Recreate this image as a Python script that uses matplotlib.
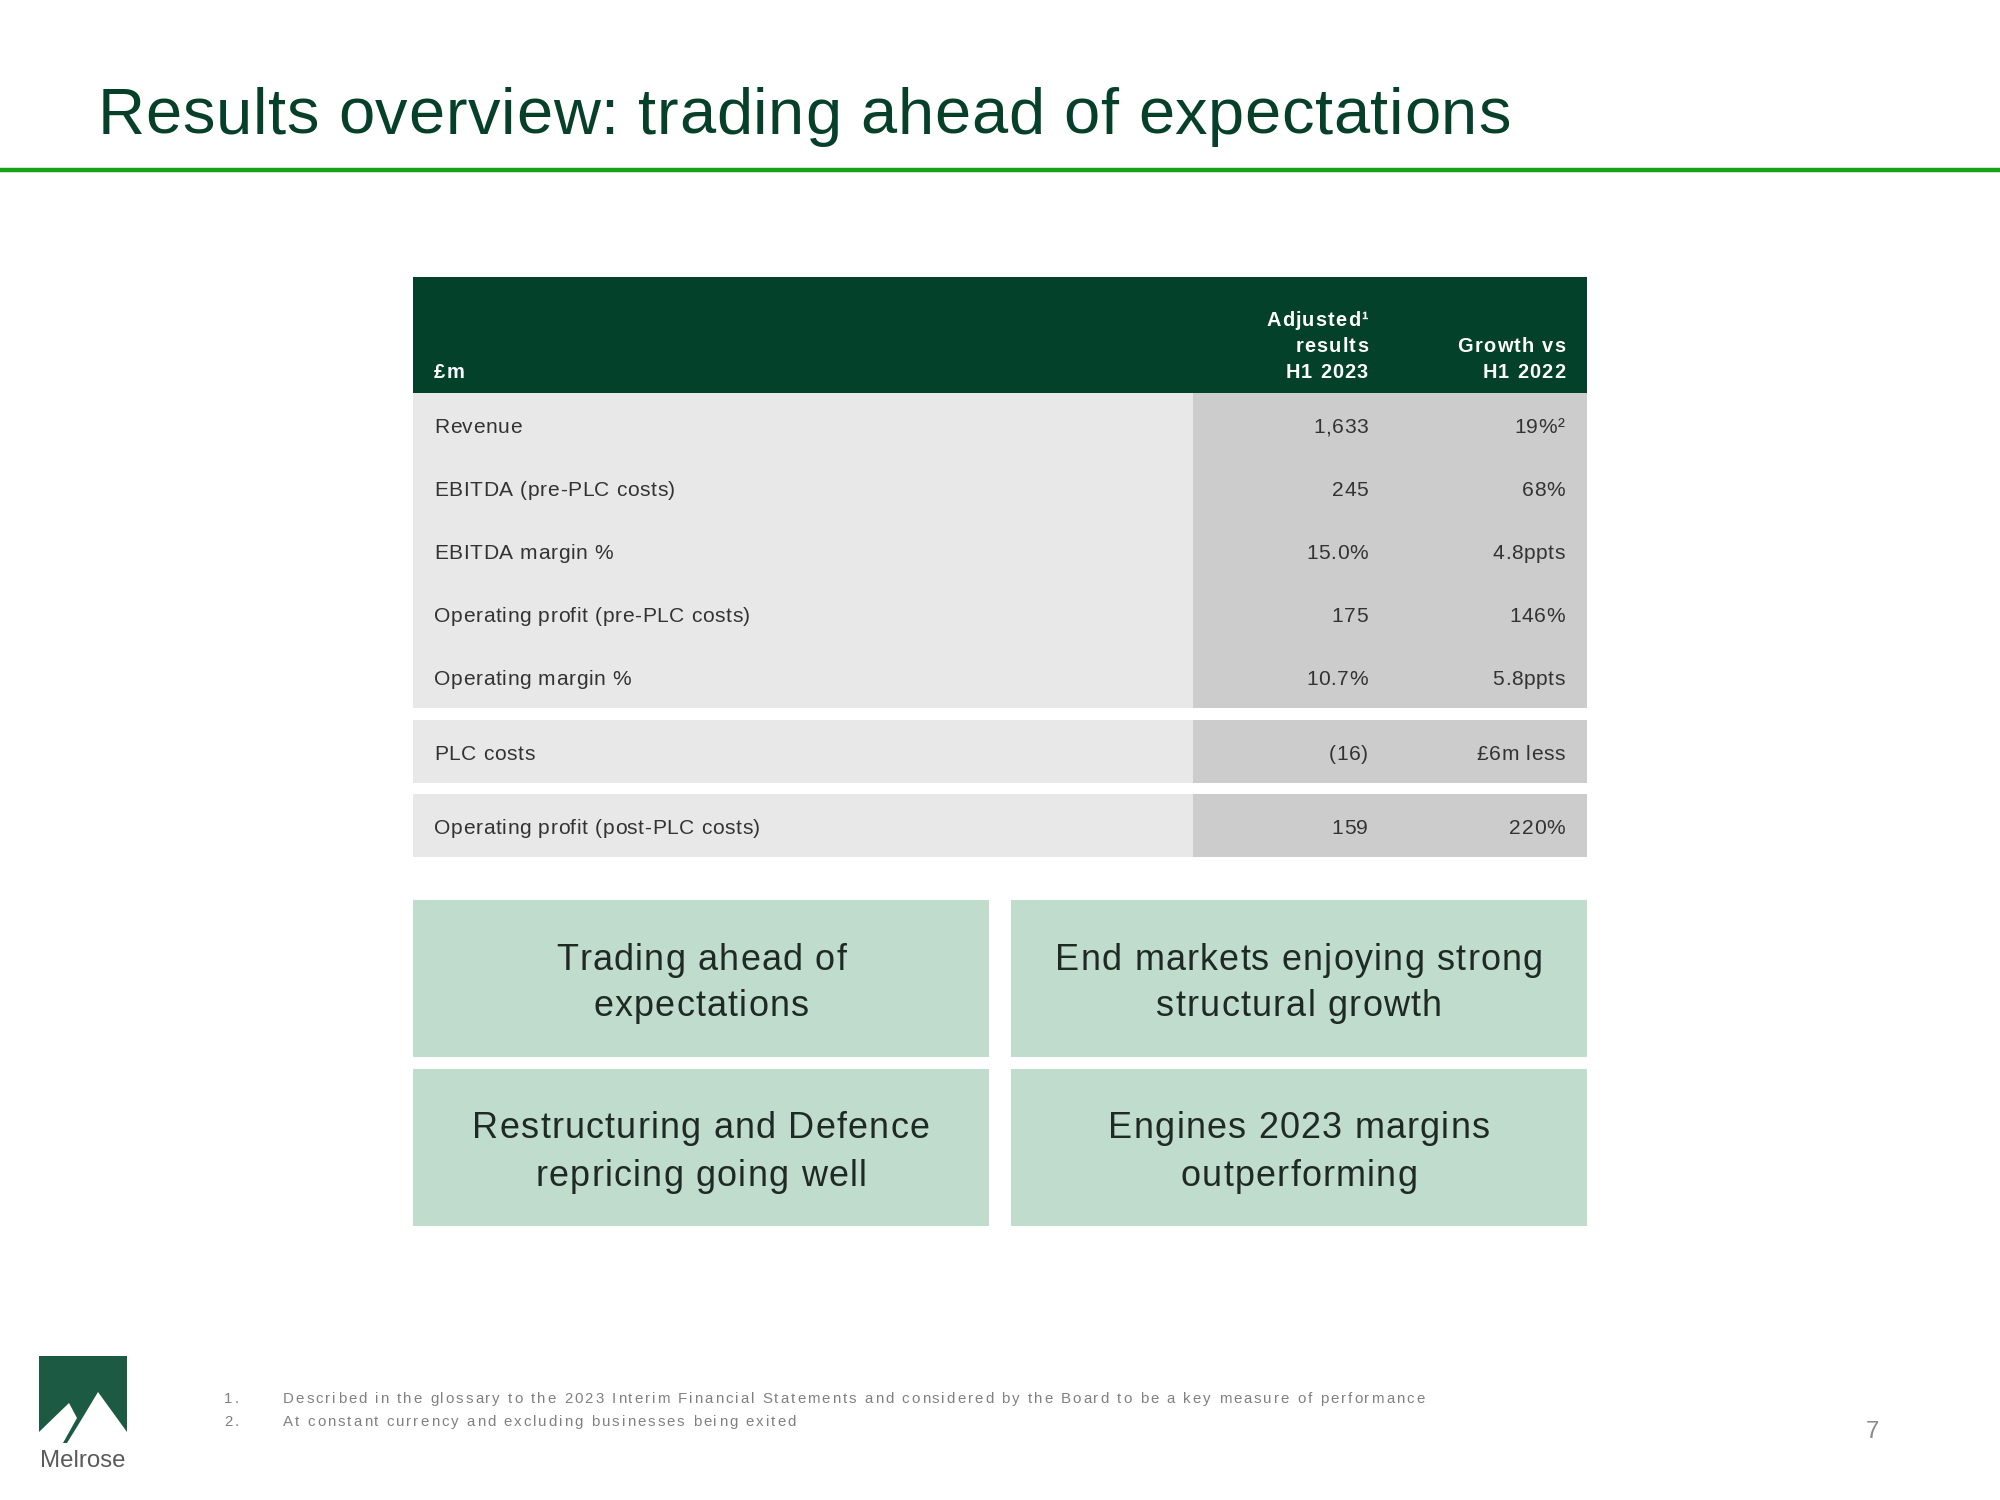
import matplotlib
matplotlib.use("Agg")
import matplotlib.pyplot as plt
from matplotlib import font_manager
from matplotlib.ft2font import FT2Font
from matplotlib.patches import Rectangle, Polygon

try:
    from matplotlib.ft2font import LoadFlags
    NO_HINT = LoadFlags.NO_HINTING
except ImportError:
    from matplotlib.ft2font import LOAD_NO_HINTING as NO_HINT

# ---- slide content ----
title = "Results overview: trading ahead of expectations"

col_unit = "£m"
col_results = ["Adjusted¹", "results", "H1 2023"]
col_growth = ["Growth vs", "H1 2022"]

row_labels = ["Revenue", "EBITDA (pre-PLC costs)", "EBITDA margin %",
              "Operating profit (pre-PLC costs)", "Operating margin %",
              "PLC costs", "Operating profit (post-PLC costs)"]
row_results = ["1,633", "245", "15.0%", "175", "10.7%", "(16)", "159"]
row_growth = ["19%²", "68%", "4.8ppts", "146%", "5.8ppts", "£6m less", "220%"]
row_block = [0, 0, 0, 0, 0, 1, 2]

highlights = [["Trading ahead of", "expectations"],
              ["End markets enjoying strong", "structural growth"],
              ["Restructuring and Defence", "repricing going well"],
              ["Engines 2023 margins", "outperforming"]]

footnotes = ["Described in the glossary to the 2023 Interim Financial Statements and considered by the Board to be a key measure of performance",
             "At constant currency and excluding businesses being exited"]
page_no = "7"

# ---- colours ----
DARK_GREEN = "#03412a"
TITLE_GREEN = "#07402a"
LINE_GREEN = "#19a019"
LIGHT_GREY = "#e8e8e8"
MID_GREY = "#cccccc"
BOX_GREEN = "#bfdccd"
TEXT = "#333333"
FAMILY = "Liberation Sans"

fig = plt.figure(figsize=(20, 15), dpi=100)
ax = fig.add_axes([0, 0, 1, 1])
ax.set_xlim(0, 2000)
ax.set_ylim(1500, 0)
ax.axis("off")

FT = {w: FT2Font(font_manager.findfont(font_manager.FontProperties(family=FAMILY, weight=w)))
      for w in ["normal", "bold"]}


def spaced(x, y, s, size_px, track, color, weight="normal", ha="left"):
    # the slide uses letter-spaced type, so glyphs are placed one by one
    ft = FT[weight]
    pt = size_px * 0.72
    ft.set_size(pt, 100)
    advs = [ft.load_char(ord(ch), flags=NO_HINT).linearHoriAdvance / 65536 for ch in s]
    total = sum(advs) + track * (len(s) - 1)
    if ha == "right":
        pen = x - total
    elif ha == "center":
        pen = x - total / 2
    else:
        pen = x
    for ch, a in zip(s, advs):
        if not ch.isspace():
            ax.text(pen, y, ch, fontsize=pt, family=FAMILY, weight=weight,
                    color=color, ha="left", va="baseline")
        pen += a + track


# title + rule
spaced(98, 134, title, 65, 0.7, TITLE_GREEN)
ax.plot([0, 2000], [170, 170], color=LINE_GREEN, lw=3.2, solid_capstyle="butt")

# table header
T_LEFT, T_SPLIT, T_RIGHT = 413, 1193, 1587
ax.add_patch(Rectangle((T_LEFT, 277), T_RIGHT - T_LEFT, 116, color=DARK_GREEN, lw=0))
spaced(434, 378, col_unit, 20, 1.2, "white", weight="bold")
for i, s in enumerate(col_results):
    spaced(1368, 326 + 26 * i, s, 20, 1.2, "white", weight="bold", ha="right")
for i, s in enumerate(col_growth):
    spaced(1565, 352 + 26 * i, s, 20, 1.2, "white", weight="bold", ha="right")

# table body blocks
ROW_H = 63
block_top = [393, 720, 794]
block_rows = [row_block.count(b) for b in range(3)]
for top, nrows in zip(block_top, block_rows):
    ax.add_patch(Rectangle((T_LEFT, top), T_SPLIT - T_LEFT, nrows * ROW_H, color=LIGHT_GREY, lw=0))
    ax.add_patch(Rectangle((T_SPLIT, top), T_RIGHT - T_SPLIT, nrows * ROW_H, color=MID_GREY, lw=0))

seen = {}
for lab, res, gro, b in zip(row_labels, row_results, row_growth, row_block):
    k = seen.get(b, 0)
    seen[b] = k + 1
    yb = block_top[b] + ROW_H * k + ROW_H / 2 + 8.5
    spaced(434, yb, lab, 21, 0.6, TEXT)
    spaced(1368, yb, res, 21, 0.6, TEXT, ha="right")
    spaced(1565, yb, gro, 21, 0.6, TEXT, ha="right")

# highlight boxes
box_x = [413, 1011]
box_y = [900, 1069]
BOX_W, BOX_H = 576, 157
for i, lines in enumerate(highlights):
    bx = box_x[i % 2]
    by = box_y[i // 2]
    ax.add_patch(Rectangle((bx, by), BOX_W, BOX_H, color=BOX_GREEN, lw=0))
    cy = by + BOX_H / 2
    for j, s in enumerate(lines):
        spaced(bx + BOX_W / 2, cy - 9 + 47 * j, s, 36, 1.2, "#1f2a24", ha="center")

# footnotes
for i, s in enumerate(footnotes):
    spaced(224, 1403 + 23 * i, f"{i + 1}.", 15, 2.0, "#808080")
    spaced(283, 1403 + 23 * i, s, 15, 2.02, "#808080")

spaced(1872, 1438, page_no, 24, 0, "#8a8a8a", ha="center")

# logo
LOGO = "#1c5a43"
ax.add_patch(Rectangle((39, 1356), 88, 87, color=LOGO, lw=0))
ax.add_patch(Polygon([(39, 1443), (39, 1432), (69, 1403), (77, 1418), (63, 1443)],
                     closed=True, color="white", lw=0))
ax.add_patch(Polygon([(67, 1443), (80, 1422), (98, 1392), (127, 1432), (127, 1443)],
                     closed=True, color="white", lw=0))
ax.text(83, 1467, "Melrose", fontsize=24 * 0.72, family=FAMILY, color="#5a5a5a",
        ha="center", va="baseline")

fig.savefig("out.png", dpi=100, facecolor="white")
